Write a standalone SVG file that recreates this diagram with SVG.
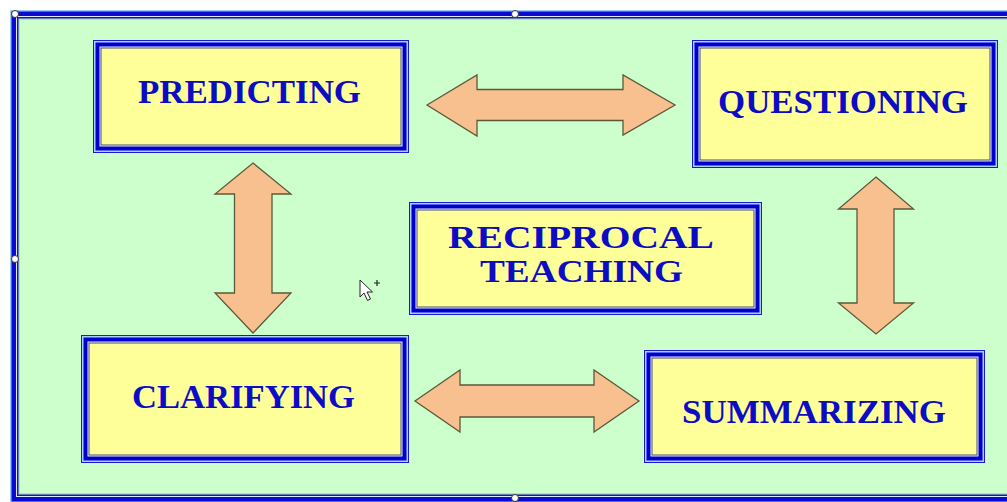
<svg xmlns="http://www.w3.org/2000/svg" width="1007" height="502" viewBox="0 0 1007 502">
<style>
.l0{fill:#1a1ad0}.l1{fill:#a8d0ff}.l2{fill:#0000cc}.l3{fill:#e6eefc}.l4{fill:#4a4a78}.l5{fill:#FFFF99}
.fr0{fill:#9cc8f4}.fr1{fill:#0a0ad0}.fr2{fill:#dce8ff}.fr3{fill:#202070}.fr4{fill:#b0d8ff}.fr5{fill:#CCFFCC}
.t{font-family:"Liberation Serif","Times New Roman",serif;font-weight:bold;font-size:33.5px;fill:#0c0cc4;text-anchor:middle}
.tc{font-size:30.5px}
.ar{fill:#F9C08F;stroke:#5a5a3a;stroke-width:1.3;stroke-linejoin:miter}
.h{fill:#ffffff;stroke:#333333;stroke-width:1}
</style>
<rect x="0" y="0" width="1007" height="502" fill="#ffffff"/>
<g id="frame">
<rect class="fr0" x="10" y="10" width="1010" height="493"/>
<rect class="fr1" x="11.5" y="11.5" width="1007" height="490"/>
<rect class="fr2" x="16" y="16" width="998" height="481"/>
<rect class="fr3" x="17" y="17" width="996" height="479"/>
<rect class="fr4" x="18.5" y="18.5" width="993" height="476"/>
<rect class="fr5" x="20" y="20" width="990" height="473"/>
</g>
<g id="connectors">
<polygon class="ar" points="427,105 477,75 477,89.5 623,89.5 623,75 675,105 623,135 623,120.5 477,120.5 477,136"/>
<polygon class="ar" points="415,401 460,370 460,385 594,385 594,370 639,401 594,432 594,417 460,417 460,432"/>
<polygon class="ar" points="253,163 291,194 272,194 272,293 291,293 253,333 215,293 234.5,293 234.5,194 215,194"/>
<polygon class="ar" points="876,177 913.5,209 894,209 894,303 913.5,303 876,334 838.5,303 857,303 857,209 838.5,209"/>
</g>
<g id="predicting">
<rect class="l0" x="93" y="40" width="316" height="113"/>
<rect class="l1" x="94" y="41" width="314" height="111"/>
<rect class="l2" x="95.5" y="42.5" width="311" height="108"/>
<rect class="l3" x="99.5" y="46.5" width="303" height="100"/>
<rect class="l4" x="100.5" y="47.5" width="301" height="98"/>
<rect class="l5" x="101.5" y="48.5" width="299" height="96"/>
<text class="t" x="249.5" y="103" textLength="223" lengthAdjust="spacingAndGlyphs">PREDICTING</text>
</g>
<g id="questioning">
<rect class="l0" x="692" y="40" width="306" height="128"/>
<rect class="l1" x="693" y="41" width="304" height="126"/>
<rect class="l2" x="694.5" y="42.5" width="301" height="123"/>
<rect class="l3" x="698.5" y="46.5" width="293" height="115"/>
<rect class="l4" x="699.5" y="47.5" width="291" height="113"/>
<rect class="l5" x="700.5" y="48.5" width="289" height="111"/>
<text class="t" x="843" y="113" textLength="250" lengthAdjust="spacingAndGlyphs">QUESTIONING</text>
</g>
<g id="reciprocal">
<rect class="l0" x="409" y="202" width="353" height="113"/>
<rect class="l1" x="410" y="203" width="351" height="111"/>
<rect class="l2" x="411.5" y="204.5" width="348" height="108"/>
<rect class="l3" x="415.5" y="208.5" width="340" height="100"/>
<rect class="l4" x="416.5" y="209.5" width="338" height="98"/>
<rect class="l5" x="417.5" y="210.5" width="336" height="96"/>
<text class="t tc" x="581" y="248" textLength="266" lengthAdjust="spacingAndGlyphs">RECIPROCAL</text>
<text class="t tc" x="581.5" y="282" textLength="203" lengthAdjust="spacingAndGlyphs">TEACHING</text>
</g>
<g id="clarifying">
<rect class="l0" x="81" y="335" width="328" height="128"/>
<rect class="l1" x="82" y="336" width="326" height="126"/>
<rect class="l2" x="83.5" y="337.5" width="323" height="123"/>
<rect class="l3" x="87.5" y="341.5" width="315" height="115"/>
<rect class="l4" x="88.5" y="342.5" width="313" height="113"/>
<rect class="l5" x="89.5" y="343.5" width="311" height="111"/>
<text class="t" x="243.5" y="408" textLength="223" lengthAdjust="spacingAndGlyphs">CLARIFYING</text>
</g>
<g id="summarizing">
<rect class="l0" x="644" y="350" width="341" height="113"/>
<rect class="l1" x="645" y="351" width="339" height="111"/>
<rect class="l2" x="646.5" y="352.5" width="336" height="108"/>
<rect class="l3" x="650.5" y="356.5" width="328" height="100"/>
<rect class="l4" x="651.5" y="357.5" width="326" height="98"/>
<rect class="l5" x="652.5" y="358.5" width="324" height="96"/>
<text class="t" x="814" y="423" textLength="264" lengthAdjust="spacingAndGlyphs">SUMMARIZING</text>
</g>
<g id="handles">
<circle class="h" cx="15" cy="14" r="3.5"/>
<circle class="h" cx="515" cy="14" r="3.5"/>
<circle class="h" cx="15" cy="259" r="3.5"/>
<circle class="h" cx="515" cy="498" r="3.5"/>
</g>
<g id="cursor">
<path d="M360,280 L360,297 L364,293 L367.5,300.5 L370.5,299 L367,292 L372.5,292 Z" fill="#ffffff" stroke="#222222" stroke-width="1"/>
<path d="M374,283 h6 M377,280 v6" stroke="#222222" stroke-width="1.2"/>
</g>
</svg>
